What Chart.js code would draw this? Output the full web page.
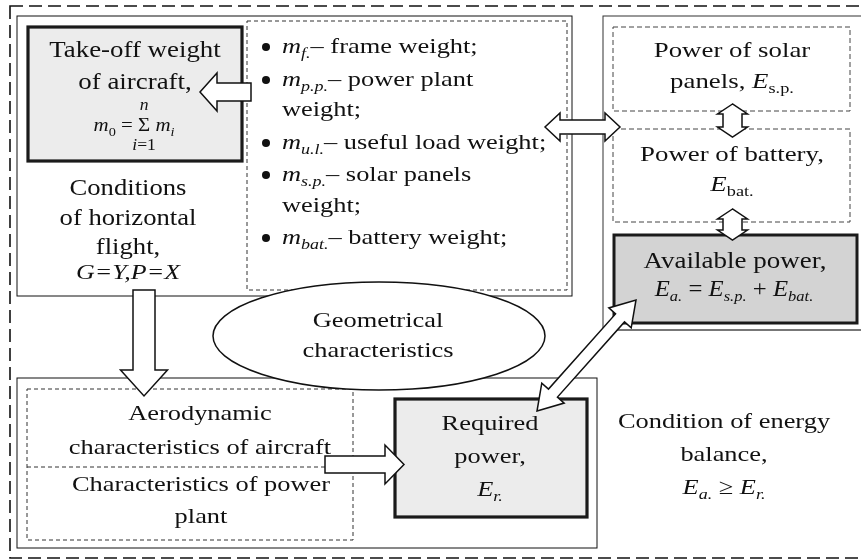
<!DOCTYPE html>
<html>
<head>
<meta charset="utf-8">
<script src="https://cdn.jsdelivr.net/npm/chart.js@4.4.0/dist/chart.umd.min.js"></script>
<style>
  html, body { margin: 0; padding: 0; background: #fff; }
  #wrap { width: 861px; height: 560px; }
</style>
</head>
<body>
<div id="wrap"><canvas id="scheme" width="861" height="560"></canvas></div>
<script>
/* TEXT CONTENT */
// runs: [text, style]  style: "" normal, "i" italic, "s" italic subscript, "S" upright subscript
const takeOffLines = ["Take-off weight", "of aircraft,"];
const conditionLines = ["Conditions", "of horizontal", "flight,"];
const conditionFormula = [["G=Y,P=X", "i"]];
const bulletItems = [
    [["m", "i"], ["f.", "s"], ["\u2013 frame weight;", ""]],
    [["m", "i"], ["p.p.", "s"], ["\u2013 power plant", ""]],
    [["weight;", ""]],
    [["m", "i"], ["u.l.", "s"], ["\u2013 useful load weight;", ""]],
    [["m", "i"], ["s.p.", "s"], ["\u2013 solar panels", ""]],
    [["weight;", ""]],
    [["m", "i"], ["bat.", "s"], ["\u2013 battery weight;", ""]]
];
const bulletMarks = [true, true, false, true, true, false, true];
const solarLines = [[["Power of solar", ""]], [["panels, ", ""], ["E", "i"], ["s.p.", "S"]]];
const batteryLines = [[["Power of battery,", ""]], [["E", "i"], ["bat.", "S"]]];
const availableLines = [[["Available power,", ""]],
    [["E", "i"], ["a.", "s"], [" = ", ""], ["E", "i"], ["s.p.", "s"], [" + ", ""], ["E", "i"], ["bat.", "s"]]];
const geometryLines = ["Geometrical", "characteristics"];
const aeroLines = ["Aerodynamic", "characteristics of aircraft"];
const plantLines = ["Characteristics of power", "plant"];
const requiredLines = [[["Required", ""]], [["power,", ""]], [["E", "i"], ["r.", "s"]]];
const balanceLines = [[["Condition of energy", ""]], [["balance,", ""]],
    [["E", "i"], ["a.", "s"], [" \u2265 ", ""], ["E", "i"], ["r.", "s"]]];

/* LAYOUT */
const FONT = '"Liberation Serif", "DejaVu Serif", serif';
const INK = "#111";
const HS = 1.2; // the source text is a bit wider than plain Times

function font(size, italic) {
    return (italic ? "italic " : "") + size + "px " + FONT;
}

function drawRuns(ctx, runs, x, y, size, align, hs) {
    hs = hs || HS;
    const parts = runs.map(([t, st]) => {
        const sub = st === "s" || st === "S";
        const sz = sub ? Math.round(size * 0.66) : size;
        const f = font(sz, st === "i" || st === "s");
        ctx.font = f;
        return { t, f, w: ctx.measureText(t).width * hs, dy: sub ? size * 0.32 : 0 };
    });
    const total = parts.reduce((a, p) => a + p.w, 0);
    let cx = align === "left" ? x : x - total / 2;
    const xs = [];
    ctx.textAlign = "left";
    ctx.textBaseline = "middle";
    parts.forEach(p => {
        ctx.font = p.f;
        xs.push(cx);
        ctx.save();
        ctx.translate(cx, y + p.dy);
        ctx.scale(hs, 1);
        ctx.fillText(p.t, 0, 0);
        ctx.restore();
        cx += p.w;
    });
    return { xs, parts };
}

function rect(ctx, x, y, w, h, opt) {
    ctx.save();
    ctx.setLineDash(opt.dash || []);
    ctx.lineWidth = opt.lw || 1;
    ctx.strokeStyle = opt.stroke || INK;
    if (opt.fill) { ctx.fillStyle = opt.fill; ctx.fillRect(x, y, w, h); }
    ctx.strokeRect(x, y, w, h);
    ctx.restore();
}

function blockArrow(ctx, x1, y1, x2, y2, shaft, head, headLen, both) {
    const dx = x2 - x1, dy = y2 - y1, L = Math.hypot(dx, dy);
    const ux = dx / L, uy = dy / L, nx = -uy, ny = ux;
    const P = (s, n) => [x1 + ux * s + nx * n, y1 + uy * s + ny * n];
    const hs = shaft / 2, hh = head / 2;
    const pts = [];
    if (both) {
        pts.push(P(0, 0), P(headLen, hh), P(headLen, hs));
    } else {
        pts.push(P(0, hs));
    }
    pts.push(P(L - headLen, hs), P(L - headLen, hh), P(L, 0), P(L - headLen, -hh), P(L - headLen, -hs));
    if (both) {
        pts.push(P(headLen, -hs), P(headLen, -hh));
    } else {
        pts.push(P(0, -hs));
    }
    ctx.save();
    ctx.beginPath();
    pts.forEach((p, i) => i ? ctx.lineTo(p[0], p[1]) : ctx.moveTo(p[0], p[1]));
    ctx.closePath();
    ctx.fillStyle = "#fff";
    ctx.fill();
    ctx.lineWidth = 1.5;
    ctx.strokeStyle = INK;
    ctx.setLineDash([]);
    ctx.stroke();
    ctx.restore();
}

const schemePlugin = {
    id: "scheme",
    afterDraw(chart) {
        const ctx = chart.ctx;
        const sx = chart.scales.x, sy = chart.scales.y;
        const X = v => sx.getPixelForValue(v);
        const Y = v => sy.getPixelForValue(v);
        const R = (x0, y0, x1, y1, opt) => rect(ctx, X(x0), Y(y0), X(x1) - X(x0), Y(y1) - Y(y0), opt);

        ctx.save();
        ctx.fillStyle = "#fff";
        ctx.fillRect(0, 0, chart.width, chart.height);

        // outer dashed frame (right edge is cut off in the source)
        R(10, 6, 880, 558, { dash: [13, 6], lw: 1.6 });

        // containers
        R(17, 16, 572, 296, { lw: 1 });
        R(603, 16, 880, 330, { lw: 1, stroke: "#333" });
        ctx.save();
        ctx.strokeStyle = "#777";
        ctx.lineWidth = 2.2;
        ctx.beginPath();
        ctx.moveTo(X(603), Y(330));
        ctx.lineTo(X(861), Y(330));
        ctx.stroke();
        ctx.restore();
        R(17, 378, 597, 548, { lw: 1 });

        // boxes
        R(28, 27, 242, 161, { lw: 3.2, fill: "#ececec", stroke: "#1a1a1a" });
        R(247, 21, 567, 290, { dash: [4, 3], lw: 1, stroke: "#333" });
        R(613, 27, 850, 111, { dash: [5, 3], lw: 1, stroke: "#444" });
        R(613, 129, 850, 222, { dash: [5, 3], lw: 1, stroke: "#444" });
        R(614, 235, 857, 323, { lw: 3, fill: "#d3d3d3", stroke: "#1a1a1a" });
        R(27, 389, 353, 540, { dash: [4, 3], lw: 1, stroke: "#333" });
        ctx.save();
        ctx.setLineDash([4, 3]);
        ctx.strokeStyle = "#333";
        ctx.beginPath();
        ctx.moveTo(X(27), Y(467));
        ctx.lineTo(X(330), Y(467));
        ctx.stroke();
        ctx.restore();
        R(395, 399, 587, 517, { lw: 3.2, fill: "#ececec", stroke: "#1a1a1a" });

        // ellipse
        ctx.save();
        ctx.beginPath();
        ctx.ellipse(X(379), Y(336), X(166) - X(0), Y(54) - Y(0), 0, 0, Math.PI * 2);
        ctx.fillStyle = "#fff";
        ctx.fill();
        ctx.lineWidth = 1.5;
        ctx.strokeStyle = INK;
        ctx.stroke();
        ctx.restore();

        ctx.fillStyle = INK;

        // take-off weight
        takeOffLines.forEach((t, i) => drawRuns(ctx, [[t, ""]], X(135), Y(51 + i * 32), 24, "center", 1.12));
        const f = drawRuns(ctx, [["m", "i"], ["0", "S"], [" = ", ""], ["\u03A3", ""], [" m", "i"], ["i", "s"]], X(134), Y(126), 19, "center", 1.1);
        const sigX = f.xs[3] + f.parts[3].w / 2;
        drawRuns(ctx, [["n", "i"]], sigX, Y(106), 16, "center", 1.1);
        drawRuns(ctx, [["i", "i"], ["=1", ""]], sigX, Y(146), 16, "center", 1.1);

        // conditions
        conditionLines.forEach((t, i) => drawRuns(ctx, [[t, ""]], X(128), Y(189 + i * 29.5), 24, "center", 1.11));
        drawRuns(ctx, conditionFormula, X(128), Y(273), 22, "center", 1.18);

        // bullets
        bulletItems.forEach((runs, i) => {
            const y = Y([47, 80, 110, 143, 175, 206, 238][i]);
            if (bulletMarks[i]) {
                ctx.beginPath();
                ctx.arc(X(266), y, 4, 0, Math.PI * 2);
                ctx.fill();
            }
            drawRuns(ctx, runs, X(282), y, 22, "left");
        });

        // energy side
        solarLines.forEach((r, i) => drawRuns(ctx, r, X(732), Y(51 + i * 31), 22, "center", 1.22));
        batteryLines.forEach((r, i) => drawRuns(ctx, r, X(732), Y(155 + i * 30), 22, "center", 1.22));
        drawRuns(ctx, availableLines[0], X(735), Y(262), 22.5, "center", 1.2);
        drawRuns(ctx, availableLines[1], X(734), Y(290), 22.5, "center", 1.1);

        geometryLines.forEach((t, i) => drawRuns(ctx, [[t, ""]], X(378), Y(321 + i * 30), 22));
        aeroLines.forEach((t, i) => drawRuns(ctx, [[t, ""]], X(200), Y(414 + i * 34), 22));
        plantLines.forEach((t, i) => drawRuns(ctx, [[t, ""]], X(201), Y(485 + i * 32), 22));
        requiredLines.forEach((r, i) => drawRuns(ctx, r, X(490), Y(424 + i * 33), 22));
        balanceLines.forEach((r, i) => drawRuns(ctx, r, X(724), Y(422 + i * 33), 22));

        // arrows
        blockArrow(ctx, X(251), Y(92), X(200), Y(92), 18, 38, 17, false);
        blockArrow(ctx, X(545), Y(127), X(620), Y(127), 14, 28, 15, true);
        blockArrow(ctx, X(732.5), Y(104), X(732.5), Y(137), 19, 30, 10, true);
        blockArrow(ctx, X(732.5), Y(209), X(732.5), Y(240), 19, 30, 10, true);
        blockArrow(ctx, X(144), Y(290), X(144), Y(396), 22, 47, 26, false);
        blockArrow(ctx, X(325), Y(464.5), X(404), Y(464.5), 17, 39, 19, false);
        blockArrow(ctx, X(537), Y(411), X(636), Y(300), 12, 30, 24, true);
        ctx.restore();
    }
};

new Chart(document.getElementById("scheme"), {
    type: "scatter",
    data: { datasets: [] },
    options: {
        responsive: false,
        animation: false,
        layout: { padding: 0 },
        plugins: { legend: { display: false }, tooltip: { enabled: false } },
        scales: {
            x: { type: "linear", min: 0, max: 861, display: false },
            y: { type: "linear", min: 0, max: 560, reverse: true, display: false }
        }
    },
    plugins: [schemePlugin]
});
</script>
</body>
</html>
